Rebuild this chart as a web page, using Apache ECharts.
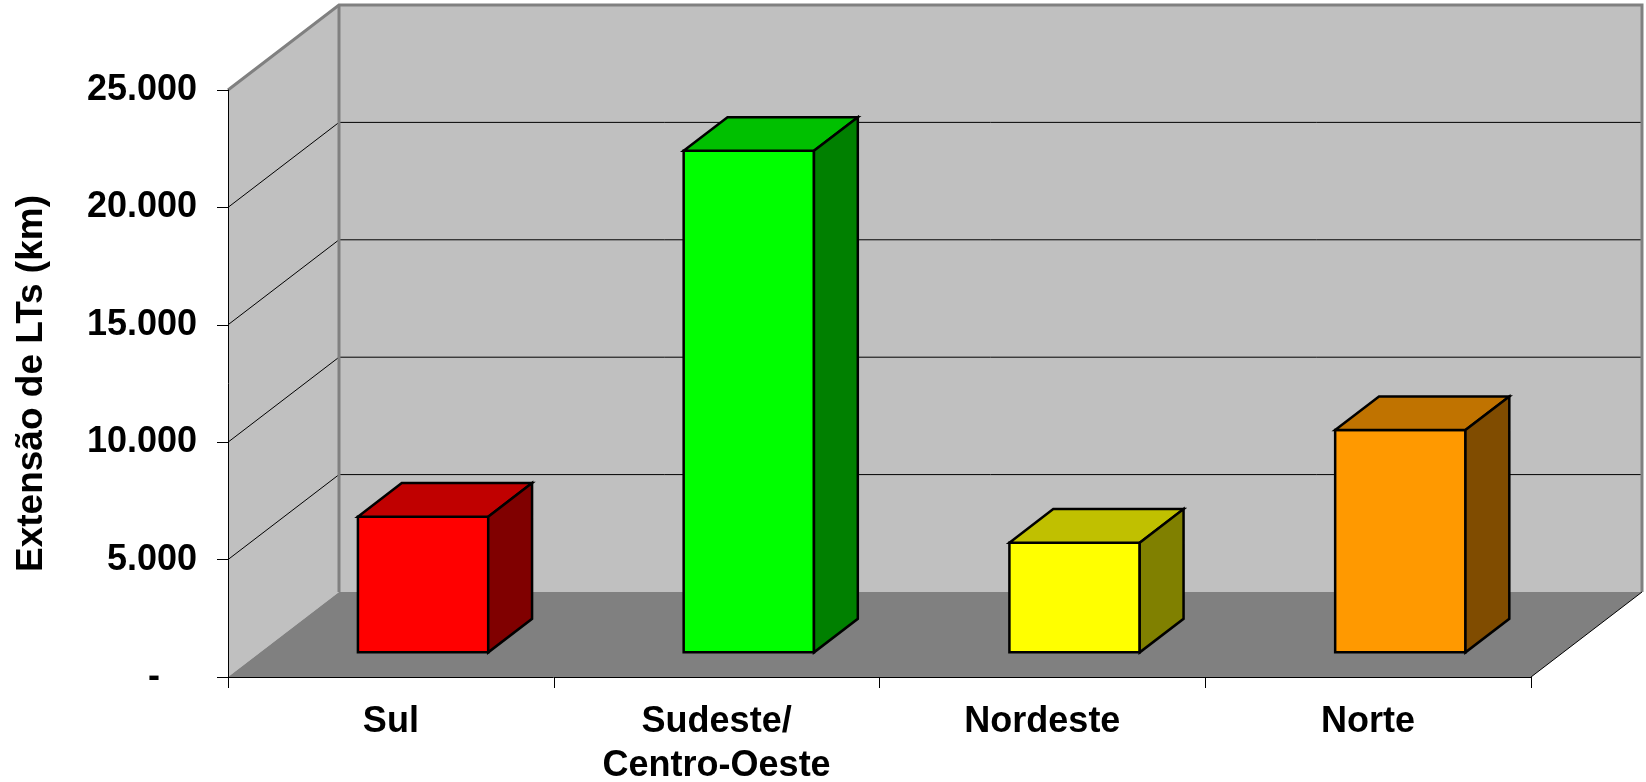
<!DOCTYPE html>
<html>
<head>
<meta charset="utf-8">
<title>Extensão de LTs</title>
<script src="https://cdn.jsdelivr.net/npm/echarts@6/dist/echarts.min.js"></script>
<style>
  html, body { margin: 0; padding: 0; background: #fff; }
  #chart { width: 1646px; height: 782px; }
</style>
</head>
<body>
<div id="chart"></div>
<script>
// dados do gráfico
var regioes = ['Sul', 'Sudeste/\nCentro-Oeste', 'Nordeste', 'Norte'];
var extensao = [5780, 21360, 4670, 9470];
var yMax = 25000;
var yPasso = 5000;

// cores das faces (frente, topo, lado)
var coresBarras = [
    ['#FF0000', '#C00000', '#800000'],
    ['#00FF00', '#00C000', '#008000'],
    ['#FFFF00', '#C0C000', '#808000'],
    ['#FF9900', '#C07300', '#804C00']
];

// profundidade do efeito 3D (px)
var DX = 111, DY = 85;
var FRENTE = 0.29, FUNDO = 0.685, LARGURA = 0.4;
var FONTE = 'Liberation Sans, Arial, sans-serif';

var chart = echarts.init(document.getElementById('chart'));

// paredes, piso e linhas de grade
function desenhaParedes(params, api) {
    var cs = params.coordSys;
    var x0 = cs.x, x1 = cs.x + cs.width;
    var yT = cs.y, yB = cs.y + cs.height;
    var filhos = [];
    filhos.push({ type: 'polygon', shape: { points: [[x0, yT], [x0 + DX, yT - DY], [x0 + DX, yB - DY], [x0, yB]] },
        style: { fill: '#C0C0C0' } });
    filhos.push({ type: 'rect', shape: { x: x0 + DX, y: yT - DY, width: cs.width, height: cs.height },
        style: { fill: '#C0C0C0' } });
    filhos.push({ type: 'polygon', shape: { points: [[x0, yB], [x0 + DX, yB - DY], [x1 + DX, yB - DY], [x1, yB]] },
        style: { fill: '#808080' } });
    for (var v = yPasso; v < yMax; v += yPasso) {
        var y = api.coord([0, v])[1];
        filhos.push({ type: 'polyline', shape: { points: [[x0, y], [x0 + DX, y - DY], [x1 + DX, y - DY]] },
            style: { stroke: '#000', lineWidth: 1, fill: null } });
    }
    // contorno cinza das paredes
    filhos.push({ type: 'polyline', shape: { points: [[x0, yT], [x0 + DX, yT - DY], [x1 + DX, yT - DY], [x1 + DX, yB - DY]] },
        style: { stroke: '#808080', lineWidth: 3, fill: null } });
    filhos.push({ type: 'line', shape: { x1: x0 + DX, y1: yT - DY, x2: x0 + DX, y2: yB - DY },
        style: { stroke: '#808080', lineWidth: 3 } });
    filhos.push({ type: 'line', shape: { x1: x1, y1: yB, x2: x1 + DX, y2: yB - DY },
        style: { stroke: '#000', lineWidth: 1 } });
    return { type: 'group', children: filhos };
}

// barras em 3D
function desenhaBarra(params, api) {
    var i = api.value(0);
    var base = api.coord([i, 0]);
    var topo = api.coord([i, api.value(1)]);
    var w = api.size([1, 0])[0] * LARGURA;
    var ox = DX * FRENTE, oy = DY * FRENTE;
    var dx = DX * (FUNDO - FRENTE), dy = DY * (FUNDO - FRENTE);
    var l = base[0] - w / 2 + ox, r = l + w;
    var b = base[1] - oy, t = topo[1] - oy;
    var c = coresBarras[params.dataIndex];
    var borda = { stroke: '#000', lineWidth: 2.5, lineJoin: 'miter' };
    return {
        type: 'group',
        children: [
            { type: 'polygon', shape: { points: [[l, t], [r, t], [r, b], [l, b]] },
                style: Object.assign({ fill: c[0] }, borda) },
            { type: 'polygon', shape: { points: [[l, t], [l + dx, t - dy], [r + dx, t - dy], [r, t]] },
                style: Object.assign({ fill: c[1] }, borda) },
            { type: 'polygon', shape: { points: [[r, t], [r + dx, t - dy], [r + dx, b - dy], [r, b]] },
                style: Object.assign({ fill: c[2] }, borda) }
        ]
    };
}

var option = {
    backgroundColor: '#fff',
    animation: false,
    grid: { left: 228, right: 115, top: 90, bottom: 105, containLabel: false, outerBoundsMode: 'none' },
    xAxis: {
        type: 'category',
        data: regioes,
        z: 5,
        axisLine: { lineStyle: { color: '#000', width: 1 } },
        axisTick: { show: true, length: 11, interval: 0, lineStyle: { color: '#000' } },
        axisLabel: { interval: 0, margin: 23, color: '#000', fontSize: 36, fontWeight: 'bold',
            fontFamily: FONTE, lineHeight: 44 },
        splitLine: { show: false }
    },
    yAxis: {
        type: 'value',
        min: 0,
        max: yMax,
        interval: yPasso,
        z: 5,
        name: 'Extensão de LTs (km)',
        nameLocation: 'middle',
        nameGap: 178,
        nameTextStyle: { color: '#000', fontSize: 37, fontWeight: 'bold', fontFamily: FONTE },
        axisLine: { show: true, lineStyle: { color: '#000', width: 1 } },
        axisTick: { show: true, length: 11, lineStyle: { color: '#000' } },
        axisLabel: {
            margin: 31, color: '#000', fontSize: 36, fontWeight: 'bold', fontFamily: FONTE,
            formatter: function (v) {
                if (v === 0) return '{z|-}';
                return String(v).replace(/\B(?=(\d{3})+(?!\d))/g, '.');
            },
            rich: { z: { fontSize: 36, fontWeight: 'bold', fontFamily: FONTE, color: '#000', padding: [0, 37, 0, 0] } }
        },
        splitLine: { show: false }
    },
    series: [
        {
            type: 'custom',
            z: 1,
            silent: true,
            renderItem: desenhaParedes,
            data: [[0, 0]]
        },
        {
            type: 'custom',
            z: 2,
            renderItem: desenhaBarra,
            data: extensao.map(function (v, i) { return [i, v]; })
        }
    ]
};

chart.setOption(option);
</script>
</body>
</html>
